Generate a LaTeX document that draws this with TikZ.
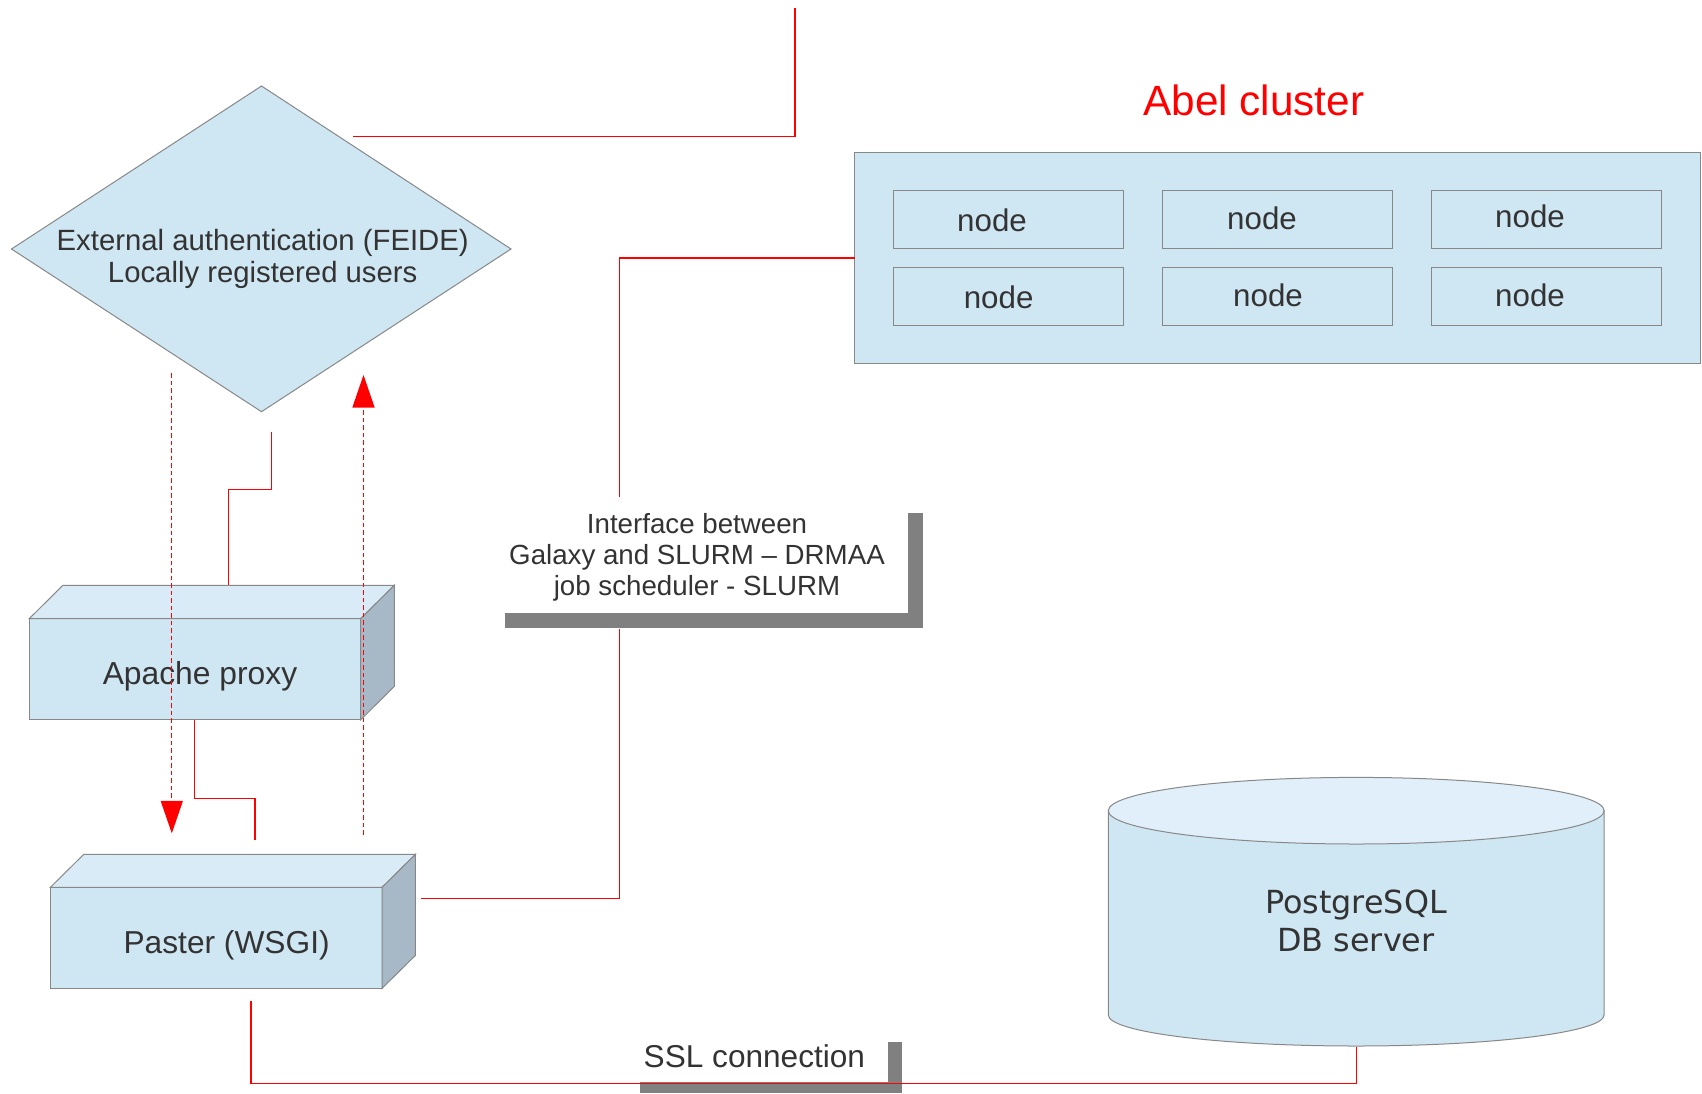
\documentclass[tikz,border=0pt]{standalone}
\usepackage{fontspec}
\setmainfont{Liberation Sans}
\newfontfamily\dejavu{DejaVu Sans}
\usetikzlibrary{arrows.meta,calc}
\definecolor{boxblue}{RGB}{207,230,243}
\definecolor{boxtop}{RGB}{216,235,247}
\definecolor{boxside}{RGB}{167,185,198}
\definecolor{cyltop}{RGB}{224,239,249}
\definecolor{edgegray}{RGB}{136,136,136}
\definecolor{txtgray}{RGB}{51,51,51}
\definecolor{lgray}{RGB}{128,128,128}
\definecolor{wire}{RGB}{255,0,0}
\begin{document}
\begin{tikzpicture}[x=1pt,y=-1pt,
  face/.style={draw=edgegray, fill=boxblue, line width=1pt},
  frontbox/.style={face, inner sep=0pt, outer sep=0pt},
  lbl/.style={text=txtgray, inner sep=0pt, align=center},
  wireline/.style={draw=wire, line width=1.3pt},
  dashwire/.style={draw=wire, line width=1.3pt, dash pattern=on 4.5pt off 3pt,
    -{Triangle[length=32.5pt,width=22pt,fill=wire]}},
  shadowbar/.style={fill=lgray},
]
\useasboundingbox (0,0) rectangle (1702,1093);
\fill[white] (0,0) rectangle (1702,1093);

% ---- diamond
\coordinate (dT) at (261.5,86);
\coordinate (dR) at (511,249);
\coordinate (dB) at (261.5,411.7);
\coordinate (dL) at (11.5,249);
\draw[face] (dT) -- (dR) -- (dB) -- (dL) -- cycle;
\node[lbl, font=\fontsize{29.3}{32.7}\selectfont] (auth) at (262.7,258.8)
  {External authentication (FEIDE)\\Locally registered users};

% ---- Apache proxy 3D box
\node[frontbox, minimum width=331.4pt, minimum height=101.1pt] (apache) at (195,669.15) {};
\draw[face, fill=boxtop] (apache.north west) -- ++(33.6,-33.3) -- ++(331.4,0) -- (apache.north east) -- cycle;
\draw[face, fill=boxside] (apache.north east) -- ++(33.6,-33.3) -- ++(0,101.1) -- (apache.south east) -- cycle;
\node[lbl, font=\fontsize{31.8}{36}\selectfont] (apacheT) at (200,675.8) {Apache proxy};

% ---- Paster 3D box
\node[frontbox, minimum width=331.7pt, minimum height=101pt] (paster) at (216.25,937.8) {};
\draw[face, fill=boxtop] (paster.north west) -- ++(33.3,-32.9) -- ++(331.7,0) -- (paster.north east) -- cycle;
\draw[face, fill=boxside] (paster.north east) -- ++(33.3,-32.9) -- ++(0,101) -- (paster.south east) -- cycle;
\node[lbl, font=\fontsize{31.7}{36}\selectfont] (pasterT) at (226.6,944.8) {Paster (WSGI)};

% ---- Abel cluster
\node[lbl, text=wire, font=\fontsize{42.3}{48}\selectfont] (abel) at (1253.8,100) {Abel cluster};
\node[frontbox, minimum width=845.6pt, minimum height=210.6pt] (cluster) at (1277.6,258) {};
\foreach \nm/\cx/\cy in {n11/1008.5/219.5, n12/1277.6/219.5, n13/1546.4/219.5,
                         n21/1008.5/296.3, n22/1277.6/296.3, n23/1546.4/296.3}
  \node[frontbox, minimum width=230pt, minimum height=57.8pt] (\nm) at (\cx,\cy) {};
\foreach \nm/\cx/\cy in {t11/992/220.5, t12/1262/218.3, t13/1530/216.7,
                         t21/998.6/297, t22/1268/295, t23/1530/295}
  \node[lbl, font=\fontsize{31.3}{36}\selectfont] (\nm) at (\cx,\cy) {node};

% ---- PostgreSQL cylinder
\coordinate (cylL) at (1108.3,810.7);
\coordinate (cylR) at (1604.1,810.7);
\coordinate (cylC) at (1356.2,810.7);
\draw[face] (cylL) -- (1108.3,1015) arc[start angle=180, end angle=0, x radius=247.9, y radius=31] -- (cylR) -- cycle;
\draw[face, fill=cyltop] (cylC) ellipse [x radius=247.9, y radius=33.3];
\node[lbl, font=\dejavu\fontsize{31.8}{38.3}\selectfont] (db) at (1356,921.2) {PostgreSQL\\DB server};

% ---- label "shadows"
\fill[shadowbar] (907.7,513.3) rectangle (922.7,627.7);
\fill[shadowbar] (505,613.3) rectangle (922.7,627.7);
\node[lbl, font=\fontsize{27.7}{31}\selectfont] (iface) at (697,557.5)
  {Interface between\\Galaxy and SLURM -- DRMAA\\job scheduler - SLURM};
\fill[shadowbar] (887.6,1042) rectangle (902.4,1093);
\fill[shadowbar] (640,1082) rectangle (902.4,1093);
\node[lbl, font=\fontsize{31.6}{36}\selectfont] (ssl) at (754.4,1056.5) {SSL connection};

% ---- red connectors
\coordinate (a1) at (352.8,136.3);
\coordinate (a2) at (795,136.3);
\coordinate (a3) at (795,7.6);
\draw[wireline] (a1) -- (a2) -- (a3);

\coordinate (b1) at (421.4,898.4);
\coordinate (b2) at (619.8,898.4);
\coordinate (b3) at (619.8,629.3);
\coordinate (b4) at (619.8,496.7);
\draw[wireline] (b1) -- (b2) -- (b3);
\draw[wireline] (b4) -- (b4 |- cluster.west) -- (cluster.west);

\coordinate (c1) at (271.4,431.5);
\coordinate (c2) at (271.4,489.3);
\coordinate (c3) at (228.2,489.3);
\coordinate (c4) at (228.2,585.3);
\draw[wireline] (c1) -- (c2) -- (c3) -- (c4);

\coordinate (e1) at (194.6,719.7);
\coordinate (e2) at (194.6,798.5);
\coordinate (e3) at (255,798.5);
\coordinate (e4) at (255,839.8);
\draw[wireline] (e1) -- (e2) -- (e3) -- (e4);

\coordinate (f1) at (251,1001);
\coordinate (f2) at (251,1083.3);
\coordinate (f3) at (1356.2,1083.3);
\coordinate (f4) at (1356.2,1046.5);
\draw[wireline] (f1) -- (f2) -- (f3) -- (f4);

% ---- dashed arrows
\coordinate (g1) at (171.8,373);
\coordinate (g2) at (171.8,833.3);
\draw[dashwire] (g1) -- (g2);
\coordinate (h1) at (363.5,834.5);
\coordinate (h2) at (363.5,375);
\draw[dashwire] (h1) -- (h2);
\end{tikzpicture}
\end{document}
